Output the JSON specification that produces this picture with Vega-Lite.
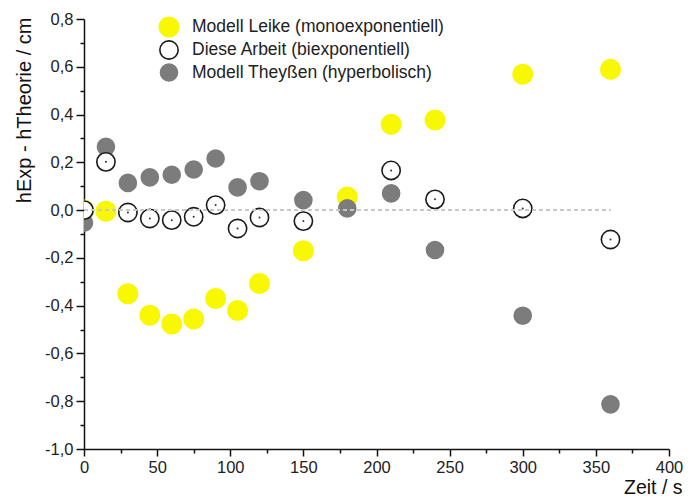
{
  "$schema": "https://vega.github.io/schema/vega-lite/v6.json",
  "width": 585,
  "height": 430,
  "autosize": {"type": "none"},
  "padding": {"left": 84, "top": 19, "right": 22, "bottom": 49},
  "background": "white",
  "config": {
    "view": {"stroke": null},
    "font": "Liberation Sans",
    "axis": {"domainColor": "#111", "domainWidth": 1.5, "tickColor": "#111", "tickWidth": 1.5, "grid": false, "labelColor": "#222", "titleColor": "#111", "labelFont": "Liberation Sans", "titleFont": "Liberation Sans", "titleFontWeight": "normal"}
  },
  "data": {
    "values": [
      {"zeit": 0, "modell": "Modell Leike (monoexponentiell)", "dh": 0.0},
      {"zeit": 15, "modell": "Modell Leike (monoexponentiell)", "dh": -0.005},
      {"zeit": 30, "modell": "Modell Leike (monoexponentiell)", "dh": -0.35},
      {"zeit": 45, "modell": "Modell Leike (monoexponentiell)", "dh": -0.44},
      {"zeit": 60, "modell": "Modell Leike (monoexponentiell)", "dh": -0.477},
      {"zeit": 75, "modell": "Modell Leike (monoexponentiell)", "dh": -0.456},
      {"zeit": 90, "modell": "Modell Leike (monoexponentiell)", "dh": -0.37},
      {"zeit": 105, "modell": "Modell Leike (monoexponentiell)", "dh": -0.42},
      {"zeit": 120, "modell": "Modell Leike (monoexponentiell)", "dh": -0.307},
      {"zeit": 150, "modell": "Modell Leike (monoexponentiell)", "dh": -0.17},
      {"zeit": 180, "modell": "Modell Leike (monoexponentiell)", "dh": 0.055},
      {"zeit": 210, "modell": "Modell Leike (monoexponentiell)", "dh": 0.359},
      {"zeit": 240, "modell": "Modell Leike (monoexponentiell)", "dh": 0.377},
      {"zeit": 300, "modell": "Modell Leike (monoexponentiell)", "dh": 0.569},
      {"zeit": 360, "modell": "Modell Leike (monoexponentiell)", "dh": 0.589},
      {"zeit": 0, "modell": "Modell Theyßen (hyperbolisch)", "dh": -0.053},
      {"zeit": 15, "modell": "Modell Theyßen (hyperbolisch)", "dh": 0.265},
      {"zeit": 30, "modell": "Modell Theyßen (hyperbolisch)", "dh": 0.114},
      {"zeit": 45, "modell": "Modell Theyßen (hyperbolisch)", "dh": 0.137},
      {"zeit": 60, "modell": "Modell Theyßen (hyperbolisch)", "dh": 0.148},
      {"zeit": 75, "modell": "Modell Theyßen (hyperbolisch)", "dh": 0.17},
      {"zeit": 90, "modell": "Modell Theyßen (hyperbolisch)", "dh": 0.216},
      {"zeit": 105, "modell": "Modell Theyßen (hyperbolisch)", "dh": 0.095},
      {"zeit": 120, "modell": "Modell Theyßen (hyperbolisch)", "dh": 0.121},
      {"zeit": 150, "modell": "Modell Theyßen (hyperbolisch)", "dh": 0.042},
      {"zeit": 180, "modell": "Modell Theyßen (hyperbolisch)", "dh": 0.007},
      {"zeit": 210, "modell": "Modell Theyßen (hyperbolisch)", "dh": 0.07},
      {"zeit": 240, "modell": "Modell Theyßen (hyperbolisch)", "dh": -0.167},
      {"zeit": 300, "modell": "Modell Theyßen (hyperbolisch)", "dh": -0.442},
      {"zeit": 360, "modell": "Modell Theyßen (hyperbolisch)", "dh": -0.813},
      {"zeit": 0, "modell": "Diese Arbeit (biexponentiell)", "dh": 0.0},
      {"zeit": 15, "modell": "Diese Arbeit (biexponentiell)", "dh": 0.202},
      {"zeit": 30, "modell": "Diese Arbeit (biexponentiell)", "dh": -0.01},
      {"zeit": 45, "modell": "Diese Arbeit (biexponentiell)", "dh": -0.035},
      {"zeit": 60, "modell": "Diese Arbeit (biexponentiell)", "dh": -0.042},
      {"zeit": 75, "modell": "Diese Arbeit (biexponentiell)", "dh": -0.028},
      {"zeit": 90, "modell": "Diese Arbeit (biexponentiell)", "dh": 0.021},
      {"zeit": 105, "modell": "Diese Arbeit (biexponentiell)", "dh": -0.077},
      {"zeit": 120, "modell": "Diese Arbeit (biexponentiell)", "dh": -0.031},
      {"zeit": 150, "modell": "Diese Arbeit (biexponentiell)", "dh": -0.046},
      {"zeit": 210, "modell": "Diese Arbeit (biexponentiell)", "dh": 0.166},
      {"zeit": 240, "modell": "Diese Arbeit (biexponentiell)", "dh": 0.045},
      {"zeit": 300, "modell": "Diese Arbeit (biexponentiell)", "dh": 0.007},
      {"zeit": 360, "modell": "Diese Arbeit (biexponentiell)", "dh": -0.123}
    ]
  },
  "encoding": {
    "x": {
      "field": "zeit", "type": "quantitative",
      "scale": {"domain": [0, 400], "nice": false, "zero": false},
      "axis": {
        "title": "Zeit / s",
        "values": [0, 25, 50, 75, 100, 125, 150, 175, 200, 225, 250, 275, 300, 325, 350, 375, 400],
        "labelExpr": "datum.value % 50 == 0 ? datum.label : ''",
        "tickSize": {"condition": {"test": "datum.value % 50 == 0", "value": 7}, "value": 4},
        "labelFontSize": 16.5,
        "labelPadding": 3,
        "labelFlush": false,
        "labelOverlap": false,
        "titleFontSize": 19.5,
        "titleAlign": "right",
        "titleAnchor": null,
        "titleX": 598,
        "titleY": 44,
        "titleBaseline": "alphabetic"
      }
    },
    "y": {
      "field": "dh", "type": "quantitative",
      "scale": {"domain": [-1.0, 0.8], "nice": false, "zero": false},
      "axis": {
        "title": "hExp - hTheorie / cm",
        "values": [-1.0, -0.9, -0.8, -0.7, -0.6, -0.5, -0.4, -0.3, -0.2, -0.1, 0.0, 0.1, 0.2, 0.3, 0.4, 0.5, 0.6, 0.7, 0.8],
        "labelExpr": "abs(round(datum.value*10)) % 2 == 0 ? replace(replace(format(datum.value, '.1f'), '.', ','), '\u2212', '-') : ''",
        "tickSize": {"condition": {"test": "abs(round(datum.value*10)) % 2 == 0", "value": 8}, "value": 4},
        "labelFontSize": 16.5,
        "labelPadding": 3,
        "labelFlush": false,
        "labelOverlap": false,
        "titleFontSize": 20,
        "titleAngle": -90,
        "titleAlign": "right",
        "titleAnchor": null,
        "titleBaseline": "top",
        "titleX": -70,
        "titleY": -2
      }
    }
  },
  "layer": [
    {
      "mark": {"type": "point", "filled": true, "clip": true, "strokeWidth": 1.6, "opacity": 1, "shape": "circle"},
      "encoding": {
        "fill": {
          "field": "modell", "type": "nominal",
          "scale": {"domain": ["Modell Leike (monoexponentiell)", "Diese Arbeit (biexponentiell)", "Modell Theyßen (hyperbolisch)"], "range": ["#f8f800", "#ffffff", "#7c7c7c"]},
          "legend": {
            "title": null, "orient": "none", "legendX": 74, "legendY": -3, "padding": 0,
            "labelFontSize": 17.5, "labelColor": "#222", "labelFont": "Liberation Sans", "labelOffset": 12, "labelLimit": 0,
            "rowPadding": -6, "symbolStrokeWidth": 1.6
          }
        },
        "stroke": {
          "field": "modell", "type": "nominal",
          "scale": {"domain": ["Modell Leike (monoexponentiell)", "Diese Arbeit (biexponentiell)", "Modell Theyßen (hyperbolisch)"], "range": ["#f8f800", "#1a1a1a", "#7c7c7c"]}
        },
        "size": {
          "field": "modell", "type": "nominal",
          "scale": {"domain": ["Modell Leike (monoexponentiell)", "Diese Arbeit (biexponentiell)", "Modell Theyßen (hyperbolisch)"], "range": [380, 290, 380]}
        },
        "order": {"field": "zeit"}
      }
    },
    {
      "transform": [{"filter": "datum.modell == 'Diese Arbeit (biexponentiell)'"}],
      "mark": {"type": "point", "filled": true, "clip": true, "size": 4, "color": "#333", "opacity": 1, "shape": "circle"}
    },
    {
      "mark": {"type": "rule", "color": "#c8c8c8", "strokeDash": [4, 3], "strokeWidth": 1},
      "encoding": {
        "x": {"datum": 0},
        "x2": {"datum": 360},
        "y": {"datum": 0}
      }
    }
  ]
}
